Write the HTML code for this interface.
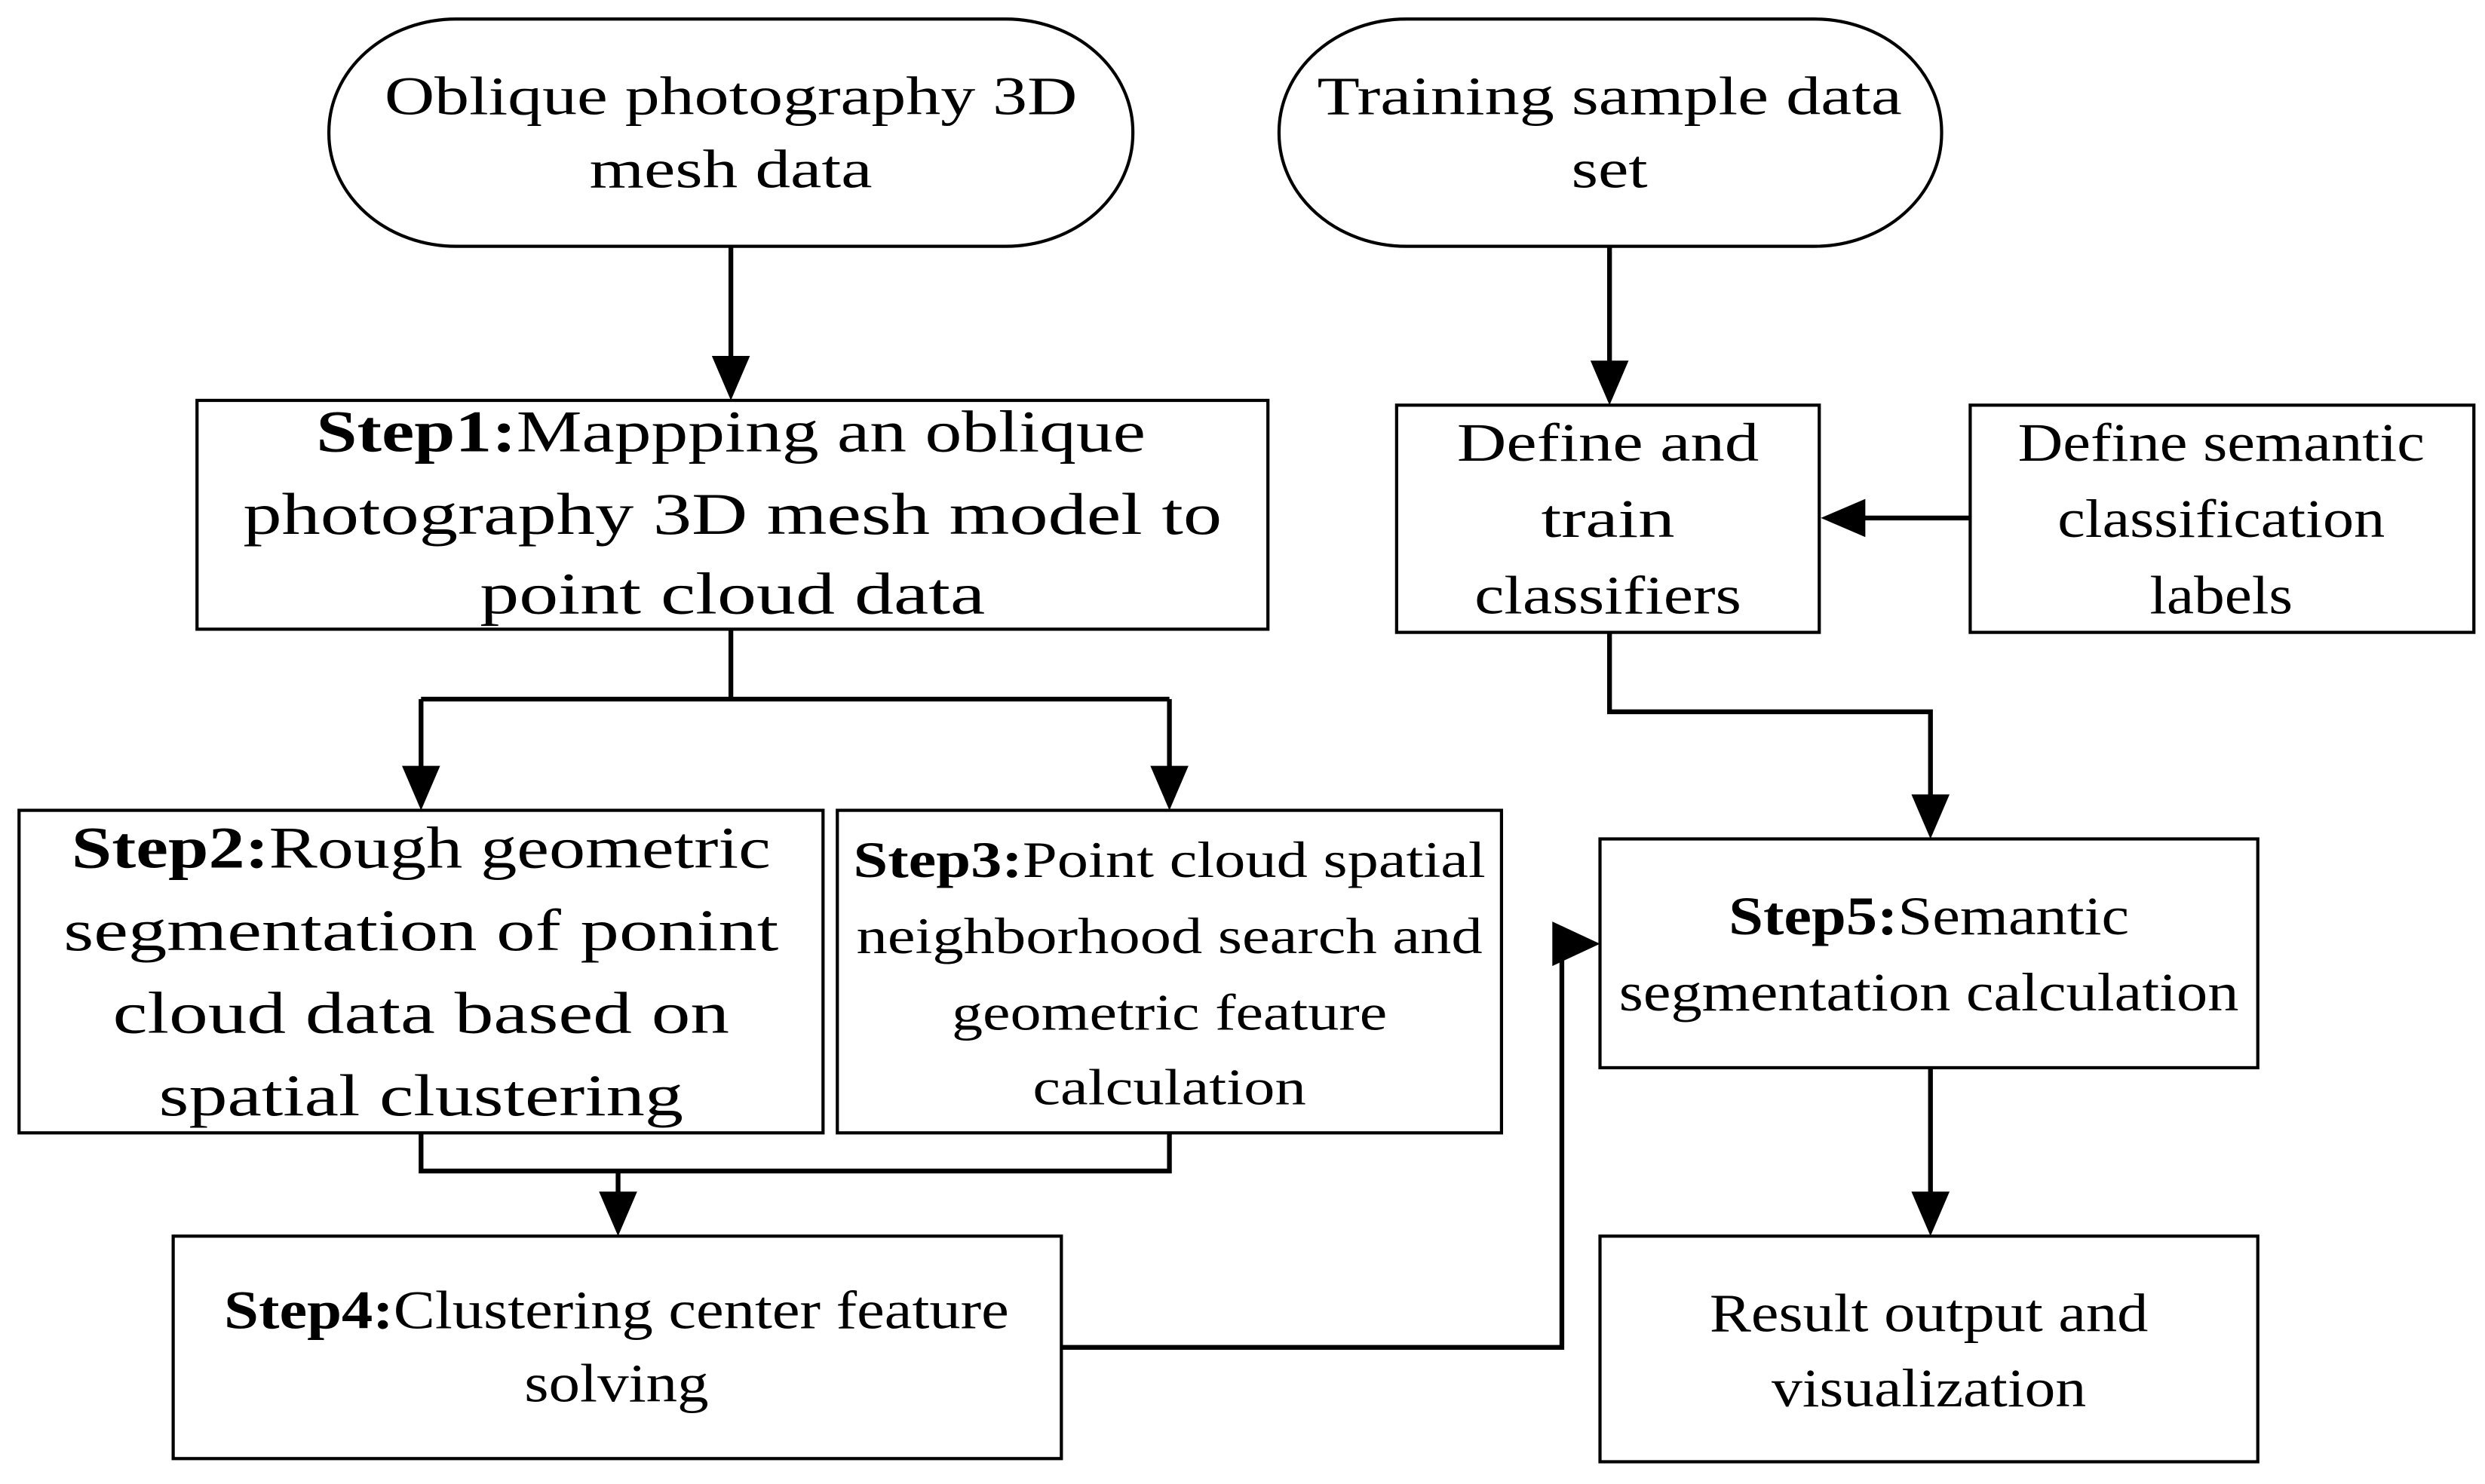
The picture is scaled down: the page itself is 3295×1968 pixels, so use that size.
<!DOCTYPE html>
<html><head><meta charset="utf-8"><style>html,body{margin:0;padding:0;background:#fff}svg{display:block}</style></head>
<body>
<svg width="3295" height="1968" viewBox="0 0 1564 934" preserveAspectRatio="none" xmlns="http://www.w3.org/2000/svg">
<g fill="none" stroke="#000" stroke-width="2">
<rect x="207" y="12" width="506" height="143" rx="80" ry="71"/>
<rect x="805" y="12" width="417" height="143" rx="80" ry="71"/>
<rect x="124" y="252" width="674" height="144"/>
<rect x="879" y="255" width="266" height="143"/>
<rect x="1240" y="255" width="317" height="143"/>
<rect x="12" y="510" width="506" height="203"/>
<rect x="527" y="510" width="418" height="203"/>
<rect x="1007" y="528" width="414" height="144"/>
<rect x="109" y="778" width="559" height="140"/>
<rect x="1007" y="778" width="414" height="142"/>
</g>
<g fill="none" stroke="#000" stroke-width="3">
<path d="M460 155V226"/>
<path d="M1013 155V229"/>
<path d="M460 396V440M265 440H736M265 440V484M736 440V484"/>
<path d="M265 713V737H736V713M389 737V752"/>
<path d="M668 848H983V594"/>
<path d="M1013 398V448H1215V502"/>
<path d="M1215 672V752"/>
<path d="M1240 326H1172"/>
</g>
<g fill="#000">
<polygon points="448,224 472,224 460,252"/>
<polygon points="1001,227 1025,227 1013,255"/>
<polygon points="253,482 277,482 265,510"/>
<polygon points="724,482 748,482 736,510"/>
<polygon points="377,750 401,750 389,778"/>
<polygon points="1203,500 1227,500 1215,528"/>
<polygon points="1203,750 1227,750 1215,778"/>
<polygon points="1174,314 1174,338 1146,326"/>
<polygon points="977,580 977,608 1007,594"/>
</g>
<g font-family="'Liberation Serif',serif" font-size="34" text-anchor="middle" fill="#000">
<text x="460" y="72" textLength="436" lengthAdjust="spacingAndGlyphs">Oblique photography 3D</text>
<text x="460" y="118" textLength="178" lengthAdjust="spacingAndGlyphs">mesh data</text>
<text x="1013" y="72" textLength="368" lengthAdjust="spacingAndGlyphs">Training sample data</text>
<text x="1013" y="118" textLength="48" lengthAdjust="spacingAndGlyphs">set</text>
<g font-size="37">
<text x="460" y="284" textLength="522" lengthAdjust="spacingAndGlyphs"><tspan font-weight="bold">Step1:</tspan>Mappping an oblique</text>
<text x="461" y="336" textLength="616" lengthAdjust="spacingAndGlyphs">photography 3D mesh model to</text>
<text x="461" y="386" textLength="318" lengthAdjust="spacingAndGlyphs">point cloud data</text>
</g>
<text x="1012" y="290" textLength="190" lengthAdjust="spacingAndGlyphs">Define and</text>
<text x="1012" y="338" textLength="84" lengthAdjust="spacingAndGlyphs">train</text>
<text x="1012" y="386" textLength="168" lengthAdjust="spacingAndGlyphs">classifiers</text>
<text x="1398" y="290" textLength="256" lengthAdjust="spacingAndGlyphs">Define semantic</text>
<text x="1398" y="338" textLength="206" lengthAdjust="spacingAndGlyphs">classification</text>
<text x="1398" y="386" textLength="90" lengthAdjust="spacingAndGlyphs">labels</text>
<g font-size="37">
<text x="265" y="546" textLength="440" lengthAdjust="spacingAndGlyphs"><tspan font-weight="bold">Step2:</tspan>Rough geometric</text>
<text x="265" y="598" textLength="450" lengthAdjust="spacingAndGlyphs">segmentation of ponint</text>
<text x="265" y="650" textLength="388" lengthAdjust="spacingAndGlyphs">cloud data based on</text>
<text x="265" y="702" textLength="330" lengthAdjust="spacingAndGlyphs">spatial clustering</text>
</g>
<g font-size="32">
<text x="736" y="552" textLength="398" lengthAdjust="spacingAndGlyphs"><tspan font-weight="bold">Step3:</tspan>Point cloud spatial</text>
<text x="736" y="600" textLength="394" lengthAdjust="spacingAndGlyphs">neighborhood search and</text>
<text x="736" y="648" textLength="274" lengthAdjust="spacingAndGlyphs">geometric feature</text>
<text x="736" y="695" textLength="172" lengthAdjust="spacingAndGlyphs">calculation</text>
</g>
<text x="1214" y="588" textLength="252" lengthAdjust="spacingAndGlyphs"><tspan font-weight="bold">Step5:</tspan>Semantic</text>
<text x="1214" y="636" textLength="390" lengthAdjust="spacingAndGlyphs">segmentation calculation</text>
<text x="388" y="836" textLength="494" lengthAdjust="spacingAndGlyphs"><tspan font-weight="bold">Step4:</tspan>Clustering center feature</text>
<text x="388" y="882" textLength="116" lengthAdjust="spacingAndGlyphs">solving</text>
<text x="1214" y="838" textLength="276" lengthAdjust="spacingAndGlyphs">Result output and</text>
<text x="1214" y="885" textLength="198" lengthAdjust="spacingAndGlyphs">visualization</text>
</g>
</svg>
</body></html>
